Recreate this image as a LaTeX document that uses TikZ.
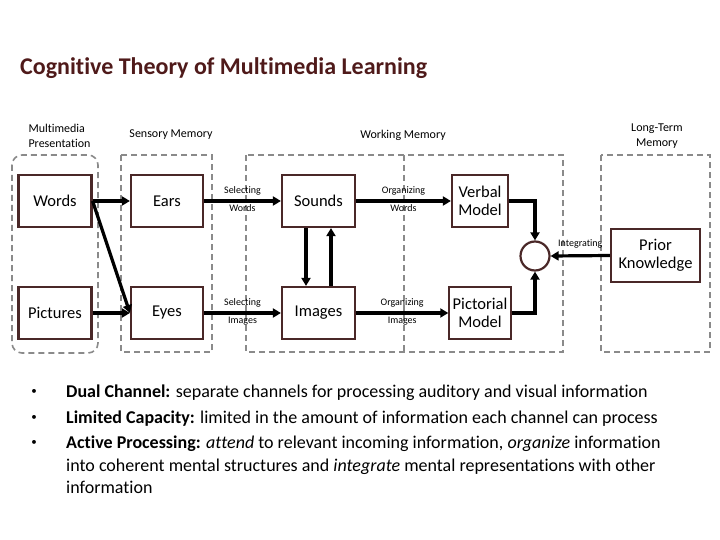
\documentclass[tikz,border=0pt]{standalone}
\usepackage{fontspec}
\setmainfont{Carlito}[Ligatures=NoCommon]
\usepackage{xcolor}
\usetikzlibrary{arrows.meta, positioning}
\definecolor{titlered}{HTML}{4F1A1A}
\definecolor{boxline}{HTML}{4A2828}
\definecolor{groupline}{HTML}{8A8A8A}

\begin{document}
\begin{tikzpicture}[
  x=1pt, y=-1pt,
  box/.style={draw=boxline, line width=2.2pt, fill=white, minimum width=73pt, minimum height=52pt, align=center, font=\fontsize{16.5}{18}\selectfont},
  group/.style={draw=groupline, line width=1.6pt, dash pattern=on 6pt off 4pt},
  head/.style={font=\fontsize{12}{15}\selectfont, align=center},
  lbl/.style={font=\fontsize{10}{12}\selectfont, inner sep=1pt},
  arrow/.style={-{Triangle[length=8pt, width=9pt]}, line width=3.2pt, black},
  bullet/.style={font=\fontsize{18}{22.5}\selectfont, anchor=west, inner sep=0pt, align=left},
  dot/.style={font=\fontsize{11}{12}\selectfont, inner sep=0pt}
]
\useasboundingbox (0,0) rectangle (720,540);

% title
\node[anchor=west, inner sep=0pt, font=\fontsize{24}{28}\selectfont\bfseries\color{titlered}] (title) at (20,68) {Cognitive Theory of Multimedia Learning};

% stores
\draw[group, rounded corners=10pt] (12,155) rectangle (98,353);
\draw[group] (121,155) rectangle (212,352);
\draw[group] (246,155) rectangle (563,352);
\draw[group] (404,155) -- (404,352);
\draw[group] (601,155) rectangle (710,352);

\node[head, anchor=west, align=left] (mmhead) at (25,136) {Multimedia\\Presentation};
\node[head] (smhead) at (171,135) {Sensory Memory};
\node[head] (wmhead) at (403,135) {Working Memory};
\node[head] (ltmhead) at (657,136) {Long-Term\\Memory};

% boxes
\node[box] (words) at (55,201) {Words};
\node[box] (pictures) at (55,313) {Pictures};
\node[box, minimum width=72pt] (ears) at (167,201) {Ears};
\node[box, minimum width=72pt] (eyes) at (167,313) {Eyes};
\node[box] (sounds) at (318.5,201) {Sounds};
\node[box] (images) at (318.5,313) {Images};
\node[box, minimum width=56pt] (verbal) at (480,201) {Verbal\\Model};
\node[box, minimum width=56pt] (pictorial) at (480,313) {Pictorial\\Model};
\node[draw=boxline, line width=2.2pt, circle, minimum size=29pt] (integ) at (535,256) {};
\node[box, minimum width=89pt, minimum height=53pt] (prior) at (655.5,255.5) {Prior\\Knowledge};

% connectors
\draw[arrow] (words) -- (ears);
\draw[arrow] (words.east) -- (eyes.west);
\draw[arrow] (pictures) -- (eyes);
\draw[arrow] (ears) -- node[lbl, above=3pt]{Selecting} node[lbl, below=1pt]{Words} (sounds);
\draw[arrow] (eyes) -- node[lbl, above=3pt]{Selecting} node[lbl, below=1pt]{Images} (images);
\draw[arrow] (sounds) -- node[lbl, above=3pt]{Organizing} node[lbl, below=1pt]{Words} (verbal);
\draw[arrow] (images) -- node[lbl, above=3pt]{Organizing} node[lbl, below=1pt]{Images} (pictorial);
\draw[arrow] ([xshift=-12.5pt]sounds.south) -- ([xshift=-12.5pt]images.north);
\draw[arrow] ([xshift=12.5pt]images.north) -- ([xshift=12.5pt]sounds.south);
\draw[arrow] (verbal.east) -| (integ.north);
\draw[arrow] (pictorial.east) -| (integ.south);
\draw[arrow] (prior.west) -- node[lbl, above=5pt]{Integrating} (integ.east);

% principles
\node[bullet] (dual) at (66,393) {\textbf{Dual Channel:} separate channels for processing auditory and visual information};
\node[bullet] (limited) at (66,419) {\textbf{Limited Capacity:} limited in the amount of information each channel can process};
\node[bullet, anchor=north west] (active) at (66,436) {\textbf{Active Processing:} \textit{attend} to relevant incoming information, \textit{organize} information\\into coherent mental structures and \textit{integrate} mental representations with other\\information};
\node[dot] (b1) at (34,392) {•};
\node[dot] (b2) at (34,418) {•};
\node[dot] (b3) at (34,443) {•};
\end{tikzpicture}
\end{document}
